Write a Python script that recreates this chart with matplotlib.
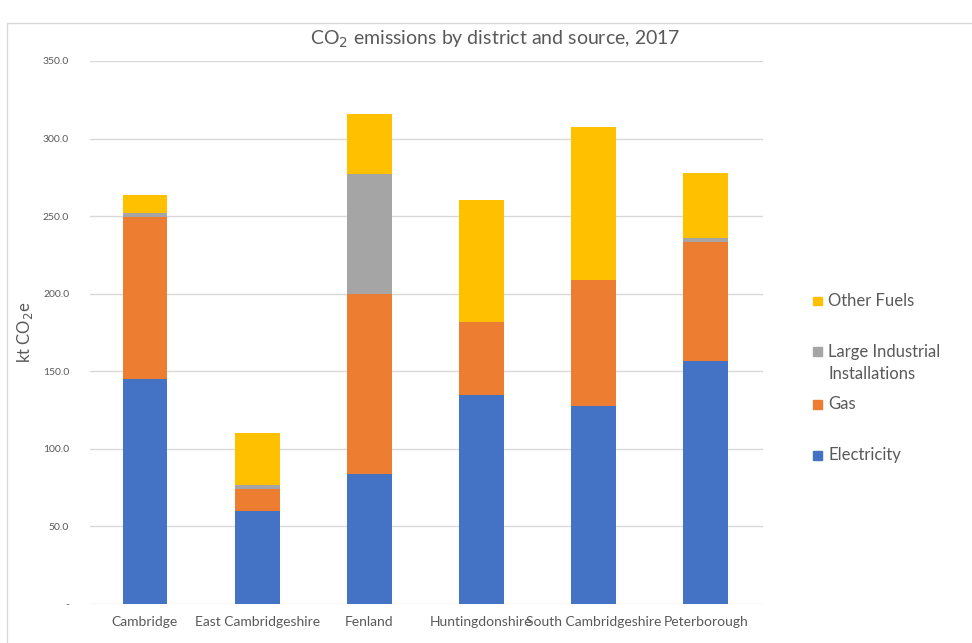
import matplotlib
matplotlib.use("Agg")
import matplotlib.pyplot as plt
from matplotlib.patches import Rectangle
import numpy as np

plt.rcParams['font.family'] = ['Lato', 'DejaVu Sans']

districts = ["Cambridge", "East Cambridgeshire", "Fenland", "Huntingdonshire",
             "South Cambridgeshire", "Peterborough"]
electricity = [145.0, 60.0, 84.0, 134.5, 127.6, 156.4]
gas = [104.5, 14.0, 116.0, 47.5, 81.0, 77.0]
large_industrial = [2.5, 2.5, 77.0, 0.0, 0.0, 2.7]
other_fuels = [11.5, 34.0, 39.0, 78.5, 99.0, 41.5]

series_names = ["Electricity", "Gas", "Large Industrial\nInstallations", "Other Fuels"]
series_values = [electricity, gas, large_industrial, other_fuels]
colors = ["#4472C4", "#ED7D31", "#A5A5A5", "#FFC000"]
yticks = [0, 50, 100, 150, 200, 250, 300, 350]

text_color = "#595959"
fig = plt.figure(figsize=(9.72, 6.43), dpi=100)
ax = fig.add_axes([90/972, 1-604/643, (763-90)/972, (604-61)/643])

x = np.arange(len(districts))
bottom = np.zeros(len(districts))
for name, vals, c in zip(series_names, series_values, colors):
    ax.bar(x, vals, bottom=bottom, width=0.4, color=c, label=name, zorder=3)
    bottom += np.array(vals)

ax.set_xlim(-0.49, 5.51)
ax.set_ylim(0, 350)
ax.set_yticks(yticks)
ax.set_yticklabels(["-" if v == 0 else f"{v:.1f}" for v in yticks], fontsize=7.5, color=text_color)
ax.set_xticks(x)
ax.set_xticklabels(districts, fontsize=10, color=text_color)
ax.tick_params(axis='both', length=0)
ax.tick_params(axis='x', pad=9)
ax.tick_params(axis='y', pad=15)
ax.grid(axis='y', color='#D9D9D9', linewidth=1, zorder=0)
for s in ax.spines.values():
    s.set_visible(False)

ax.set_ylabel("kt CO$_2$e", fontsize=12, color=text_color)
ax.yaxis.set_label_coords((35 - 90) / 673, 0.5)
fig.text(495/972, 1-39/643, "CO$_2$ emissions by district and source, 2017",
         ha='center', va='center', fontsize=14, color=text_color)

# chart border
fig.patches.append(Rectangle((7/972, -0.01), 1.0, 1-23/643+0.01, transform=fig.transFigure,
                             fill=False, edgecolor='#D9D9D9', linewidth=1))

# legend (manual, reversed order)
leg_y = [301, 363, 404, 455]
for (name, c), yy in zip(list(zip(series_names, colors))[::-1], leg_y):
    yf = 1 - yy/643
    if "\n" in name:
        sq_y = 1 - 352/643
    else:
        sq_y = yf
    fig.patches.append(Rectangle((813/972, sq_y - 4.5/643), 9/972, 9/643,
                                 transform=fig.transFigure, color=c))
    fig.text(828/972, yf, name, ha='left', va='center', fontsize=12,
             color=text_color, linespacing=1.45)

fig.savefig("out.png", dpi=100)
